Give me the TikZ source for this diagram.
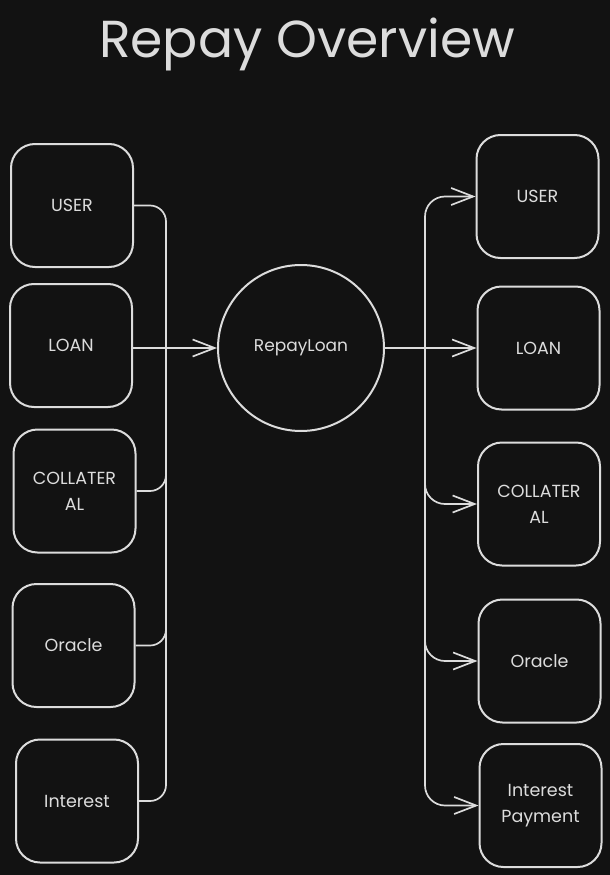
\documentclass[tikz,border=0pt]{standalone}
\usepackage{fontspec}
\setmainfont{Poppins}
\usetikzlibrary{arrows.meta}
\definecolor{bg}{HTML}{121212}
\definecolor{fg}{HTML}{DCDCDC}
\begin{document}
\begin{tikzpicture}[x=1pt,y=-1pt,
  box/.style={draw=fg, line width=2pt, rounded corners=24pt, minimum width=122pt,
    minimum height=123pt, align=center, text=fg, font=\fontsize{17.5}{26}\selectfont, inner sep=2pt},
  proc/.style={draw=fg, line width=2pt, circle, minimum size=166pt, text=fg, font=\fontsize{17}{20}\selectfont},
  conn/.style={draw=fg, line width=1.7pt},
  arr/.style={conn, -{Straight Barb[length=22pt,width=17pt]}}]
\useasboundingbox (0,0) rectangle (610,875);
\fill[bg] (0,0) rectangle (610,875);
\node[text=fg, font=\fontsize{52}{60}\selectfont, anchor=base] (title) at (307,58) {Repay Overview};
% left column
\node[box] (luser) at (72,205.5) {USER};
\node[box] (lloan) at (71,345.5) {LOAN};
\node[box] (lcoll) at (74.5,491) {COLLATER\\AL};
\node[box] (lorac) at (73.5,645.5) {Oracle};
\node[box] (lint) at (77,801) {Interest};
% centre
\node[proc] (circ) at (301,348) {RepayLoan};
% right column
\node[box] (ruser) at (537.5,196.5) {USER};
\node[box] (rloan) at (538.5,348) {LOAN};
\node[box] (rcoll) at (539,504) {COLLATER\\AL};
\node[box] (rorac) at (539.5,661) {Oracle};
\node[box] (rint) at (540.5,805.5) {Interest\\Payment};
% trunks
\coordinate (trunkL) at (166,350);
\coordinate (trunkR) at (425,348);
% left connectors
\draw[conn, rounded corners=16pt] (luser.east) -| (trunkL);
\draw[conn, rounded corners=16pt] (lcoll.east) -| (trunkL);
\draw[conn, rounded corners=16pt] (lorac.east) -| (trunkL);
\draw[conn, rounded corners=16pt] (lint.east) -| (trunkL);
\draw[arr] (lloan.east |- circ.west) -- (circ.west);
% right connectors
\draw[arr] (circ.east) -- (rloan.west);
\draw[arr, rounded corners=20pt] (trunkR) |- (ruser.west);
\draw[arr, rounded corners=20pt] (trunkR) |- (rcoll.west);
\draw[arr, rounded corners=20pt] (trunkR) |- (rorac.west);
\draw[arr, rounded corners=20pt] (trunkR) |- (rint.west);
\end{tikzpicture}
\end{document}
